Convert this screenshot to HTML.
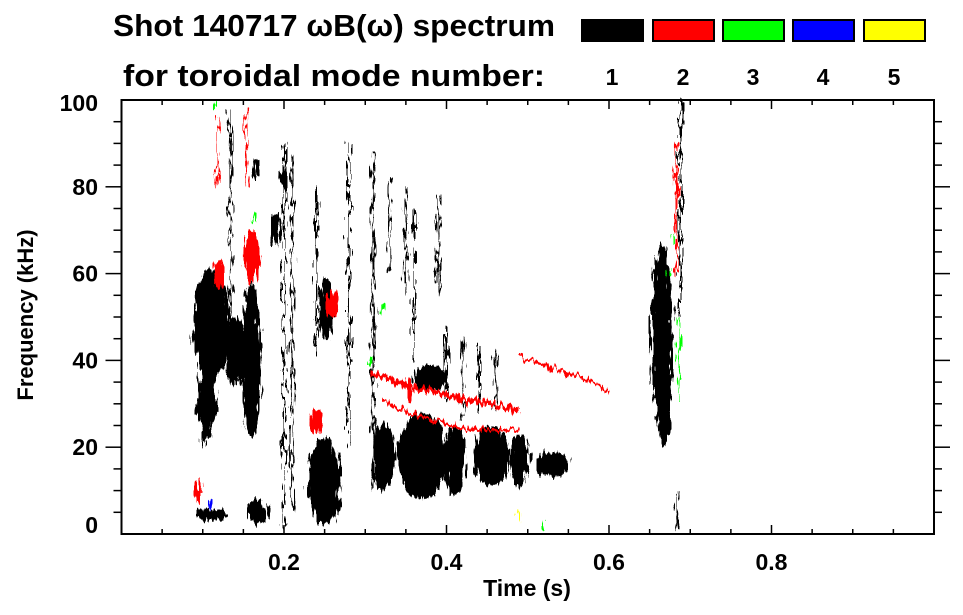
<!DOCTYPE html>
<html><head><meta charset="utf-8"><style>
html,body{margin:0;padding:0;background:#fff;}
svg{display:block;font-family:"Liberation Sans",Arial,sans-serif;font-weight:bold;}
</style></head><body>
<svg id="chart" width="963" height="615" viewBox="0 0 963 615" xmlns="http://www.w3.org/2000/svg">
<defs>
<filter id="rag" x="-30%" y="-30%" width="160%" height="160%">
<feTurbulence type="fractalNoise" baseFrequency="0.35 0.06" numOctaves="2" seed="3" result="n"/>
<feDisplacementMap in="SourceGraphic" in2="n" scale="14" xChannelSelector="R" yChannelSelector="G"/>
</filter>
</defs>
<g>
<text x="113" y="36" font-size="31" textLength="442" lengthAdjust="spacingAndGlyphs">Shot 140717 ωB(ω) spectrum</text>
<text x="123" y="86" font-size="31" textLength="422" lengthAdjust="spacingAndGlyphs">for toroidal mode number:</text>
</g>
<g id="legend"></g>
<g id="marks" filter="url(#rag)"></g>
<g id="axes"></g>
<text x="527" y="596" font-size="23" text-anchor="middle">Time (s)</text>
<text transform="translate(33,315) rotate(-90)" font-size="22" text-anchor="middle">Frequency (kHz)</text>
</svg>
<script>
// ---- data ----
const modeLabels = ["1","2","3","4","5"];
const modeColors = ["#000000","#ff0000","#00ff00","#0000ff","#ffff00"];
const xTicks = [0.2,0.4,0.6,0.8];
const yTicks = [0,20,40,60,80,100];
// blobs: [time center (s), freq center (kHz), half width (s), half height (kHz), mode]
const blobTime = [0.11,0.105,0.16,0.11,0.168,0.25,0.252,0.322,0.37,0.41,0.455,0.49,0.53,0.665,0.668,0.38,0.14,0.16,0.12,0.24,0.095,0.165,0.355,0.2,0.19,0.26];
const blobFreq = [48,30,40,4.5,5,12,52,18,18,17,18,17,16,45,30,36,42,64,60,26,10,84,33,82,70,53];
const blobHW   = [0.022,0.012,0.012,0.02,0.013,0.02,0.009,0.014,0.03,0.013,0.022,0.012,0.02,0.013,0.008,0.02,0.012,0.01,0.008,0.008,0.004,0.004,0.004,0.004,0.006,0.008];
const blobHH   = [13,8,18,1.4,3,10,7,8,10,8,7,6,3,22,10,3,8,6,3,3,3,2,3,3,4,3];
const blobMode = [1,1,1,1,1,1,1,1,1,1,1,1,1,1,1,1,1,2,2,2,2,1,2,1,1,2];
// vertical streaks: [time, freq from, freq to, mode]
const streakTime = [0.1,0.2,0.21,0.134,0.28,0.31,0.33,0.35,0.36,0.39,0.688,0.684,0.154,0.683,0.686,0.118,0.28,0.24,0.42,0.44,0.46,0.40];
const streakF0   = [20,2,5,45,20,10,60,55,40,55,50,1,80,60,30,80,55,40,27,28,29,30];
const streakF1   = [60,90,88,98,55,88,82,80,75,78,100,10,98,90,50,96,90,80,45,44,42,48];
const streakMode = [1,1,1,1,1,1,1,1,1,1,1,1,2,2,3,2,1,1,1,1,1,1];
// chirp trails (mode 2): polylines of [time], [freq]
const chirpAT = [0.31,0.34,0.38,0.42,0.46,0.49];
const chirpAF = [37,35,33,31,30,28];
const chirpBT = [0.49,0.52,0.55,0.58,0.6];
const chirpBF = [41,39,37,35,33];
const chirpCT = [0.32,0.35,0.39,0.43,0.49];
const chirpCF = [31,28,26,24,24];
// small dots: [time, freq, mode]
const dotTime = [0.163,0.321,0.678,0.675,0.115,0.305,0.52,0.11,0.49];
const dotFreq = [73,52,68,60,99,40,2,7,4];
const dotMode = [3,3,3,3,3,3,3,4,5];

// ---- scales ----
const X0=121.5, X1=934, Y0=534, Y1=100;
const xs = t => X0 + t*(X1-X0);
const ys = f => Y0 - f/100*(Y0-Y1);
const NS="http://www.w3.org/2000/svg";
function mk(tag, parent, attrs){const e=document.createElementNS(NS,tag);for(const k in attrs)e.setAttribute(k,attrs[k]);parent.appendChild(e);return e;}

// legend
const lg=document.getElementById('legend');
const lgX=[582,653,723,793,864];
modeLabels.forEach((m,i)=>{
  const r=mk('rect',lg,{x:lgX[i],y:20,width:61,height:21,fill:modeColors[i],stroke:'#000','stroke-width':2});
  
  
  const t=mk('text',lg,{x:lgX[i]+30,y:85,'font-size':23,'text-anchor':'middle'});
  t.textContent=m;
  
  
});

// marks
const mg=document.getElementById('marks');
for(let i=0;i<blobTime.length;i++){
  const e=mk('ellipse',mg,{cx:xs(blobTime[i]),cy:ys(blobFreq[i]),rx:blobHW[i]*(X1-X0),ry:blobHH[i]*(Y0-Y1)/100,fill:modeColors[blobMode[i]-1]});
  
  
}
for(let i=0;i<streakTime.length;i++){
  const l=mk('line',mg,{x1:xs(streakTime[i]),x2:xs(streakTime[i]),y1:ys(streakF0[i]),y2:ys(streakF1[i]),stroke:modeColors[streakMode[i]-1],'stroke-width':2});
  
  
}
[[chirpAT,chirpAF,5],[chirpBT,chirpBF,3],[chirpCT,chirpCF,3]].forEach(([T,F,w])=>{
  const p=mk('polyline',mg,{points:T.map((t,i)=>xs(t)+','+ys(F[i])).join(' '),fill:'none',stroke:modeColors[1],'stroke-width':w});
  
  
});
for(let i=0;i<dotTime.length;i++){
  const r=mk('rect',mg,{x:xs(dotTime[i])-1.5,y:ys(dotFreq[i])-4,width:3,height:8,fill:modeColors[dotMode[i]-1]});
  
  
}

// axes
const ax=document.getElementById('axes');
const fr=mk('rect',ax,{x:X0,y:Y1,width:X1-X0,height:Y0-Y1,fill:'none',stroke:'#000','stroke-width':2});


for(let k=1;k<20;k++){
  const t=k*0.05, x=xs(t), major=(k%4===0);
  const len=major?9:5;
  mk('line',ax,{x1:x,x2:x,y1:Y0,y2:Y0-len,stroke:'#000','stroke-width':1.5});
  mk('line',ax,{x1:x,x2:x,y1:Y1,y2:Y1+len,stroke:'#000','stroke-width':1.5});
}
for(let k=1;k<20;k++){
  const f=k*5, y=ys(f), major=(k%4===0);
  const len=major?16:8;
  mk('line',ax,{x1:X0,x2:X0-len,y1:y,y2:y,stroke:'#000','stroke-width':1.5});
  mk('line',ax,{x1:X1,x2:X1+len,y1:y,y2:y,stroke:'#000','stroke-width':1.5});
}
xTicks.forEach(v=>{
  const t=mk('text',ax,{x:xs(v),y:570,'font-size':23,'text-anchor':'middle'});
  t.textContent=v.toFixed(1);
  
  
});
yTicks.forEach(v=>{
  let y=ys(v)+8; if(v===0) y-=9; if(v===100) y+=3;
  const t=mk('text',ax,{x:98,y:y,'font-size':23,'text-anchor':'end'});
  t.textContent=String(v);
  
  
});
</script>
</body></html>
